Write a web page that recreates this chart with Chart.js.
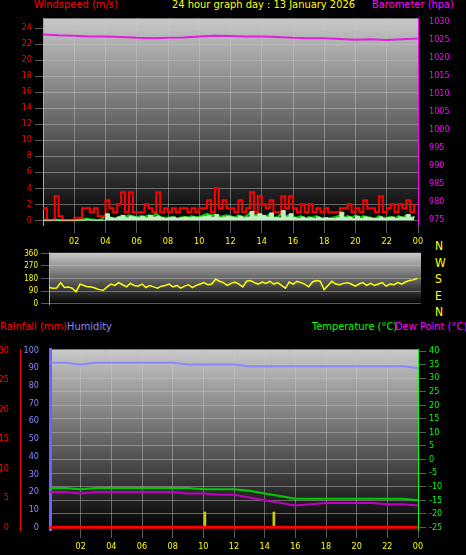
<!DOCTYPE html>
<html><head><meta charset="utf-8">
<script src="https://cdn.jsdelivr.net/npm/chart.js@4"></script>
<style>
body{margin:0;background:#000;width:466px;height:555px;overflow:hidden;position:relative;font-family:"DejaVu Sans Condensed","DejaVu Sans",sans-serif}
.t{position:absolute;font-size:11px;white-space:nowrap;line-height:12px}
canvas{position:absolute;left:0}
</style></head><body>
<div class="t" style="left:34px;top:-1px;color:#f00">Windspeed (m/s)</div>
<div class="t" style="left:172px;top:-1px;color:#ff0">24 hour graph day : 13 January 2026</div>
<div class="t" style="left:372px;top:-1px;color:#f0f">Barometer (hpa)</div>
<div class="t" style="left:435px;top:238px;color:#ff0;font-size:12px;line-height:16.5px">N<br>W<br>S<br>E<br>N</div>
<div class="t" style="left:0px;top:321px;color:#f00">Rainfall (mm)</div>
<div class="t" style="left:67px;top:321px;color:#88f">Humidity</div>
<div class="t" style="left:312px;top:321px;color:#0f0">Temperature (°C)</div>
<div class="t" style="left:395px;top:321px;color:#f0f">Dew Point (°C)</div>
<canvas id="c1" style="top:10px" width="466" height="235"></canvas>
<canvas id="c2" style="top:245px" width="466" height="67"></canvas>
<canvas id="c3" style="top:341px" width="466" height="210"></canvas>
<script>
// 15-minute samples
const gust=[1.5,0,0,3,0.5,0,0,0, 0.3,0.3,1.5,1.5,1,1.5,0.5,0.5, 2.5,1.5,1,2,3.5,1,3.5,1, 1,1,2,1.5,1,3.5,1,1.5,
 1,1.5,1,1.5,1.5,1,1.5,1, 1.5,1.5,2.5,1,4,1.5,2.5,1.5, 1.5,1,2.5,1,1.5,3.5,1,3, 2,1.5,2.5,1,1,3,1.5,3,
 1.5,1,2,1,2,1,1.5,1, 1.5,1,1,1,1.5,1.5,2,1, 1.5,1,2.5,1.5,1.5,1,3,1, 1.5,2,1,2,1.5,2.5,1,2];
const avgWind=[0,0,0,0.1,0,0,0,0, 0,0,0.1,0.2,0.1,0.1,0,0.1, 0.6,0.4,0.2,0.3,0.5,0.4,0.6,0.5, 0.4,0.5,0.4,0.6,0.5,0.8,0.4,0.3,
 0.3,0.4,0.2,0.3,0.4,0.3,0.5,0.4, 0.4,0.6,0.8,0.6,0.7,0.4,0.5,0.6, 0.5,0.3,0.6,0.4,0.5,0.9,0.6,0.7, 0.6,0.4,0.7,0.3,0.4,0.8,0.5,0.6,
 0.4,0.3,0.5,0.2,0.4,0.3,0.5,0.2, 0.3,0.2,0.3,0.4,0.6,0.3,0.5,0.3, 0.6,0.3,0.5,0.4,0.3,0.2,0.5,0.3, 0.3,0.4,0.2,0.5,0.3,0.6,0.3,0.4];
const windSpeed=[0,0,0,0,0,0,0,0, 0,0,0,0.1,0,0,0,0, 0.8,0.3,0.2,0.4,0.6,0.3,0.5,0.4, 0.3,0.5,0.3,0.6,0.4,0.5,0.3,0.2,
 0.3,0.4,0.2,0.3,0.4,0.3,0.4,0.3, 0.4,0.5,0.6,0.4,0.7,0.3,0.4,0.5, 0.4,0.3,0.5,0.3,0.4,1.1,0.5,0.8, 0.6,0.4,0.9,0.3,0.3,1.2,0.4,0.8,
 0.3,0.2,0.4,0.2,0.3,0.2,0.4,0.2, 0.3,0.2,0.2,0.3,1.0,0.3,0.4,0.2, 0.5,0.2,0.4,0.3,0.2,0.2,0.4,0.2, 0.3,0.4,0.2,0.4,0.3,0.7,0.3,0.5];
const windDir=[115,110,112,150,115,118,110,85, 140,130,120,118,110,100,95,120, 140,130,150,135,120,145,130,125, 140,115,130,120,110,125,130,140,
 120,130,110,125,135,115,130,140, 150,135,140,175,160,150,130,145, 155,140,120,160,165,150,140,155, 145,160,140,150,130,110,155,140,
 160,150,140,120,155,165,160,100, 130,160,140,135,145,150,140,125, 140,150,130,145,130,140,150,125, 140,135,150,140,155,165,170,180];
// hourly samples
const baro=[1026.5,1026.3,1026.2,1026.0,1026.0,1025.8,1025.6,1025.5,1025.6,1025.7,1026.0,1026.2,1026.1,1026.0,1026.0,1025.8,1025.6,1025.5,1025.5,1025.3,1025.1,1025.2,1025.0,1025.2,1025.4];
const humidity=[93,93,92,93,93,93,93,93,93,92,92,92,92,91,91,91,91,91,91,91,91,91,91,91,90];
const temperature=[-10.5,-10.5,-11,-10.5,-10.5,-10.5,-10.5,-10.5,-10.5,-10.5,-11,-11,-11,-11.5,-12.5,-13.5,-14.5,-14.5,-14.5,-14.5,-14.5,-14.5,-14.5,-14.5,-15];
const dewPoint=[-12,-12,-12.5,-12,-12,-12,-12,-12,-12,-12.5,-12.5,-13,-13,-14,-15,-16,-17,-16.5,-16,-16,-16,-16,-16.5,-16.5,-17];
const rain=new Array(25).fill(0);
const rainMarkHours=[10.1,14.6], rainMarkVals=[2.6,2.6];
const hourLabels=['00','02','04','06','08','10','12','14','16','18','20','22','00'];

const q=a=>a.map((v,i)=>({x:i*0.25,y:v}));
const h=a=>a.map((v,i)=>({x:i,y:v}));
const bg={id:'bg',beforeDraw(c){const a=c.chartArea,x=c.ctx;const g=x.createLinearGradient(0,a.top,0,a.bottom);g.addColorStop(0,'#c8c8c8');g.addColorStop(0.45,'#707070');g.addColorStop(1,'#000');x.save();x.fillStyle=g;x.fillRect(a.left,a.top,a.right-a.left,a.bottom-a.top);x.restore();}};
const grid={color:'rgba(200,200,200,0.45)',tickColor:'rgba(200,200,200,0.45)'};
const fixW=w=>s=>{s.width=w};
const fixH=hh=>s=>{s.height=hh};
const mk=(a,b,st)=>s=>{s.ticks=[];for(let v=a;v<=b+1e-9;v+=st)s.ticks.push({value:v})};
const ft={family:'DejaVu Sans Condensed, DejaVu Sans',size:9};
const xAxis=(show,hgt)=>({type:'linear',min:0,max:24,offset:false,afterFit:fixH(hgt),display:show,
  afterBuildTicks:mk(2,24,2),
  ticks:{color:'#ff0',font:ft,maxRotation:0,autoSkip:false,callback:v=>hourLabels[Math.round(v/2)]},grid:{...grid,display:true,offset:false},border:{display:false}});
const base={responsive:false,animation:false,plugins:{legend:{display:false},tooltip:{enabled:false}},layout:{padding:0},
  elements:{point:{radius:0},line:{tension:0}}};
const yt=(c,s)=>({color:c,font:s?{...ft,size:s}:ft,autoSkip:false});

new Chart(document.getElementById('c1'),{type:'line',plugins:[bg],data:{datasets:[
 {data:q(windSpeed),borderColor:'#c0f0c0',backgroundColor:'#c0f0c0',fill:'origin',borderWidth:1,yAxisID:'w',stepped:true},
 {data:q(gust),borderColor:'#f00',borderWidth:2,yAxisID:'w',stepped:true},
 {data:q(avgWind),borderColor:'#0c0',borderWidth:2,yAxisID:'w'},
 {data:h(baro),borderColor:'#e020e0',borderWidth:2,yAxisID:'b'}]},
 options:{...base,scales:{x:xAxis(true,20),
  w:{position:'left',min:-0.6,max:25.2,afterFit:fixW(43),afterBuildTicks:mk(0,24,2),ticks:yt('#f00'),grid,border:{color:'#aaa'}},
  b:{position:'right',min:973.6,max:1031,afterFit:fixW(48),afterBuildTicks:mk(975,1030,5),ticks:{...yt('#f0f'),callback:v=>String(Math.round(v))},grid:{display:false},border:{color:'#f0f'}}}}});

new Chart(document.getElementById('c2'),{type:'line',plugins:[bg],data:{datasets:[
 {data:q(windDir),borderColor:'#ff0',borderWidth:1.5,yAxisID:'d'}]},
 options:{...base,scales:{x:{...xAxis(false,0)},
  d:{position:'left',min:-5,max:365,afterFit:fixW(49),afterBuildTicks:mk(0,360,90),ticks:yt('#ff0',8),grid,border:{color:'#aaa'}},
  r:{position:'right',min:0,max:1,afterFit:fixW(45),display:true,afterBuildTicks:s=>{s.ticks=[]},ticks:{display:false},grid:{display:false},border:{display:false}}}}});

new Chart(document.getElementById('c3'),{type:'line',plugins:[bg],data:{datasets:[
 {data:h(humidity),borderColor:'#8888ff',borderWidth:2,yAxisID:'hu'},
 {data:h(temperature),borderColor:'#0c0',borderWidth:2,yAxisID:'t'},
 {data:h(dewPoint),borderColor:'#c000c0',borderWidth:2,yAxisID:'t'},
 {data:h(rain),borderColor:'#f00',borderWidth:3,yAxisID:'ra'},
 {type:'bar',data:rainMarkHours.map((x,i)=>({x,y:rainMarkVals[i]})),backgroundColor:'#cc0',barThickness:2,yAxisID:'ra'}]},
 options:{...base,scales:{x:xAxis(true,21),
  hu:{position:'left',min:-1.5,max:100.5,afterFit:fixW(30),afterBuildTicks:mk(0,100,10),ticks:yt('#88f'),grid:{display:false},border:{color:'#66f',width:3}},
  ra:{position:'left',min:-0.45,max:30.15,afterFit:fixW(20),afterBuildTicks:mk(0,30,5),ticks:yt('#f00'),grid:{display:false},border:{color:'#f00'}},
  t:{position:'right',min:-26,max:40.6,afterFit:fixW(48),afterBuildTicks:mk(-25,40,5),ticks:yt('#0f0'),grid:{...grid},border:{color:'#0f0'}}}}});
</script></body></html>
